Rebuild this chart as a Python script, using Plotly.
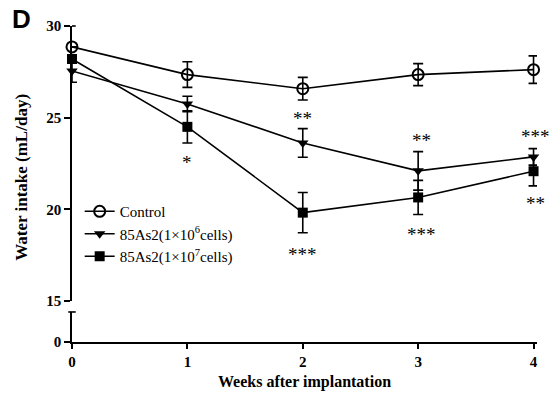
import plotly.graph_objects as go

weeks = [0, 1, 2, 3, 4]
control = [28.86, 27.35, 26.58, 27.35, 27.62]
control_err = [0.0, 0.70, 0.62, 0.60, 0.75]
low_dose = [27.55, 25.75, 23.62, 22.1, 22.86]
low_dose_err = [0.62, 0.42, 0.78, 1.05, 0.45]
high_dose = [28.2, 24.5, 19.82, 20.65, 22.08]
high_dose_err = [0.0, 0.88, 1.1, 0.93, 0.8]

star_x = [1, 2, 2, 3.03, 3.03, 4.02, 4.02]
star_y = [22.55, 24.95, 17.55, 23.75, 18.65, 23.95, 20.3]
star_text = ["*", "**", "***", "**", "***", "***", "**"]

y_ticks_upper = [15, 20, 25, 30]
x_ticks = [0, 1, 2, 3, 4]

serif = "Liberation Serif"

fig = go.Figure()

def add_series(y, err, name, symbol, filled):
    fig.add_trace(go.Scatter(
        x=weeks, y=y, name=name, mode="lines+markers",
        line=dict(color="black", width=1.6),
        marker=dict(symbol=symbol, size=11 if symbol == "circle-open" else 10,
                    color="black", line=dict(color="black", width=2 if not filled else 0)),
        error_y=dict(type="data", array=err, visible=True, color="black",
                     thickness=1.6, width=5),
        cliponaxis=False, xaxis="x", yaxis="y",
    ))

add_series(control, control_err, "Control", "circle-open", False)
add_series(low_dose, low_dose_err, "85As2(1×10<sup>6</sup>cells)", "triangle-down", True)
add_series(high_dose, high_dose_err, "85As2(1×10<sup>7</sup>cells)", "square", True)

# invisible trace so that the lower (broken) axis segment is drawn
fig.add_trace(go.Scatter(x=[0], y=[0], xaxis="x", yaxis="y2", mode="markers",
                         marker=dict(opacity=0), showlegend=False, hoverinfo="skip"))

for sx, sy, st in zip(star_x, star_y, star_text):
    fig.add_annotation(x=sx, y=sy, xref="x", yref="y", text=st, showarrow=False,
                       font=dict(family=serif, size=19, color="black"))

fig.add_annotation(x=-0.132, y=0.52, xref="paper", yref="paper", text="Water intake (mL/day)",
                   textangle=-90, showarrow=False,
                   font=dict(family=serif, size=17, color="black", weight="bold"))
fig.add_annotation(x=0.5, y=-0.125, xref="x domain", yref="paper", text="Weeks after implantation",
                   showarrow=False, yanchor="middle",
                   font=dict(family=serif, size=16, color="black", weight="bold"))
fig.add_annotation(x=-0.108, y=1.075, xref="x domain", yref="paper", text="D", showarrow=False,
                   xanchor="center", font=dict(family="Liberation Sans", size=26, color="black", weight="bold"))

# break caps on the axis segments
fig.add_shape(type="line", xref="x domain", yref="y2 domain", x0=-0.008, x1=0.008, y0=1, y1=1,
              line=dict(color="black", width=1.6))
fig.add_shape(type="line", xref="x domain", yref="y domain", x0=0, x1=0.008, y0=1, y1=1,
              line=dict(color="black", width=1.6))

fig.update_layout(
    width=549, height=393,
    margin=dict(l=72, r=12, t=26, b=51, autoexpand=False),
    paper_bgcolor="white", plot_bgcolor="white",
    showlegend=True,
    legend=dict(x=0.0165, y=0.465, xanchor="left", yanchor="top",
                font=dict(family=serif, size=15, color="black"),
                bgcolor="rgba(0,0,0,0)", tracegroupgap=0, itemwidth=30),
    xaxis=dict(range=[0, 4.03], anchor="y2", tickvals=x_ticks, showgrid=False, automargin=False,
               zeroline=False, showline=True, linecolor="black", linewidth=1.6,
               ticks="outside", ticklen=5, tickwidth=1.6, tickcolor="black",
               tickfont=dict(family=serif, size=15, color="black", weight="bold")),
    yaxis=dict(domain=[0.1297, 1.0], range=[15, 30], anchor="x", tickvals=y_ticks_upper,
               showgrid=False, zeroline=False, showline=True, linecolor="black", linewidth=1.6,
               ticks="outside", ticklen=6, tickwidth=1.6, tickcolor="black", automargin=False,
               tickfont=dict(family=serif, size=15, color="black", weight="bold")),
    yaxis2=dict(domain=[0, 0.095], range=[0, 1.65], anchor="x", tickvals=[0],
                showgrid=False, zeroline=False, showline=True, linecolor="black", linewidth=1.6,
                ticks="outside", ticklen=6, tickwidth=1.6, tickcolor="black", automargin=False,
                tickfont=dict(family=serif, size=15, color="black", weight="bold")),
)

fig.write_html("out.html", config={"displayModeBar": False},
               post_script="document.body.style.margin='0';")
